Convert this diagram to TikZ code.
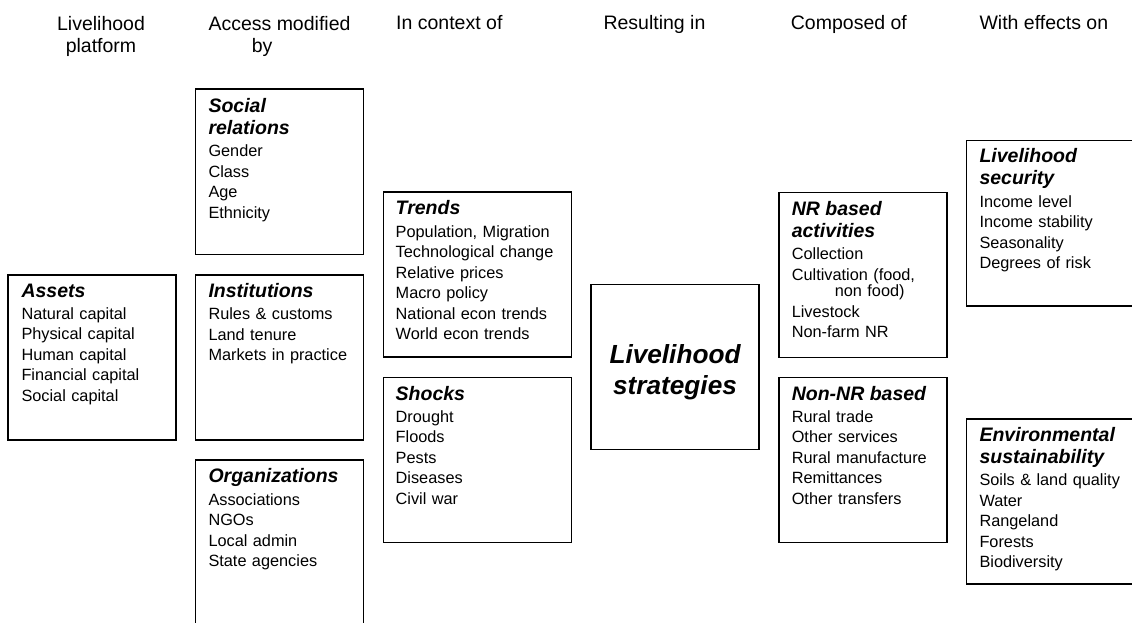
\documentclass[tikz,border=0pt]{standalone}
\usepackage{fontspec}
\setmainfont{Liberation Sans}

\newcommand{\boxhead}[1]{{\fontsize{19.5pt}{22pt}\selectfont\bfseries\itshape #1}}

\begin{document}
\begin{tikzpicture}[x=1pt, y=-1pt,
  box/.style={draw, line width=1.4pt, minimum width=168pt, minimum height=165pt, inner sep=0pt},
  boxtext/.style={anchor=north west, inner sep=0pt, text width=165pt, align=left,
    font=\fontsize{16.3pt}{20.5pt}\selectfont},
  colhead/.style={inner sep=0pt, font=\fontsize{19.5pt}{22pt}\selectfont}]

\path[use as bounding box, fill=white] (0,0) rectangle (1132,623);
\clip (0,0) rectangle (1132,623);


% column titles
\node[colhead, anchor=north, align=center] (head_platform) at (101,16) {Livelihood\\platform};
\node[colhead, anchor=north west, align=left] (head_access) at (208.3,16) {Access modified\\\hspace*{43.4pt}by};
\node[colhead, anchor=base west] (head_context) at (396,30) {In context of};
\node[colhead, anchor=base west] (head_result) at (603.3,30) {Resulting in};
\node[colhead, anchor=base west] (head_composed) at (790.7,30) {Composed of};
\node[colhead, anchor=base west] (head_effects) at (979.3,30) {With effects on};


% livelihood platform
\node[box] (assets) at (92,357.5) {};
\node[boxtext] (assets_text) at ([xshift=14pt, yshift=-9.2pt]assets.north west)
  {\boxhead{Assets}\\[1.8pt]Natural capital\\Physical capital\\Human capital\\Financial capital\\Social capital};


% access modified by
\node[box] (social) at (279.5,171.7) {};
\node[boxtext] (social_text) at ([xshift=13.5pt, yshift=-9.2pt]social.north west)
  {\boxhead{Social}\\[1.8pt]\boxhead{relations}\\[1.8pt]Gender\\Class\\Age\\Ethnicity};

\node[box] (institutions) at (279.5,357.3) {};
\node[boxtext] (institutions_text) at ([xshift=13.5pt, yshift=-9.2pt]institutions.north west)
  {\boxhead{Institutions}\\[1.8pt]Rules \& customs\\Land tenure\\Markets in practice};

\node[box] (organizations) at (279.5,542.5) {};
\node[boxtext] (organizations_text) at ([xshift=13.5pt, yshift=-9.2pt]organizations.north west)
  {\boxhead{Organizations}\\[1.8pt]Associations\\NGOs\\Local admin\\State agencies};


% in context of
\node[box, minimum width=188pt] (trends) at (477.5,274.5) {};
\node[boxtext] (trends_text) at ([xshift=12.7pt, yshift=-9.2pt]trends.north west)
  {\boxhead{Trends}\\[1.8pt]Population, Migration\\Technological change\\Relative prices\\Macro policy\\National econ trends\\World econ trends};

\node[box, minimum width=188pt] (shocks) at (477.5,459.8) {};
\node[boxtext] (shocks_text) at ([xshift=12.7pt, yshift=-9.2pt]shocks.north west)
  {\boxhead{Shocks}\\[1.8pt]Drought\\Floods\\Pests\\Diseases\\Civil war};


% resulting in
\node[box] (strategies) at (675,367.2) {};
\node[inner sep=0pt, align=center, font=\fontsize{26.2pt}{31pt}\selectfont\bfseries\itshape]
  (strategies_text) at ([yshift=-5.5pt]strategies.center) {Livelihood\\strategies};


% composed of
\node[box] (nr_based) at (862.8,275) {};
\node[boxtext] (nr_based_text) at ([xshift=13.5pt, yshift=-9.2pt]nr_based.north west)
  {\boxhead{NR based}\\[1.8pt]\boxhead{activities}\\[1.8pt]Collection\\Cultivation (food,\\[-4pt]\hspace*{43pt}non food)\\Livestock\\Non-farm NR};

\node[box] (non_nr) at (862.8,459.8) {};
\node[boxtext] (non_nr_text) at ([xshift=13.5pt, yshift=-9.2pt]non_nr.north west)
  {\boxhead{Non-NR based}\\[1.8pt]Rural trade\\Other services\\Rural manufacture\\Remittances\\Other transfers};


% with effects on
\node[box] (security) at (1050.7,223.3) {};
\node[boxtext] (security_text) at ([xshift=13.3pt, yshift=-8.2pt]security.north west)
  {\boxhead{Livelihood}\\[1.8pt]\boxhead{security}\\[1.8pt]Income level\\Income stability\\Seasonality\\Degrees of risk};

\node[box] (environment) at (1050.7,501.5) {};
\node[boxtext] (environment_text) at ([xshift=13.3pt, yshift=-8.5pt]environment.north west)
  {\boxhead{Environmental}\\[1.8pt]\boxhead{sustainability}\\[1.8pt]Soils \& land quality\\Water\\Rangeland\\Forests\\Biodiversity};

\end{tikzpicture}
\end{document}
